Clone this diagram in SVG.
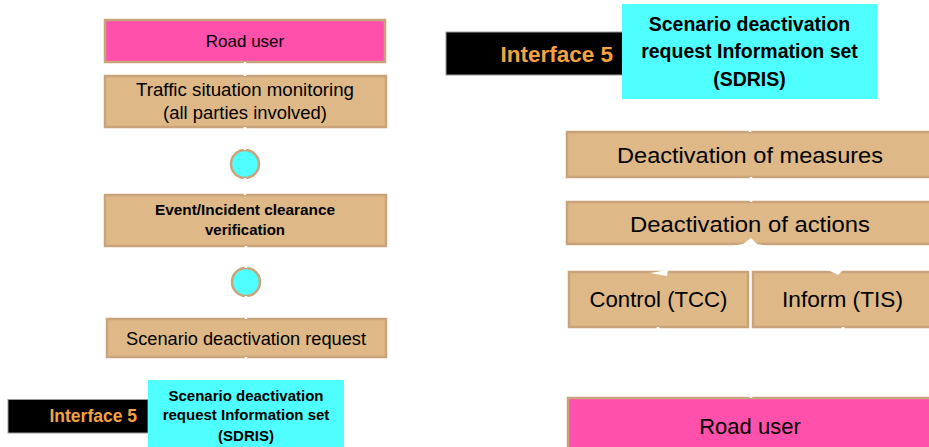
<svg xmlns="http://www.w3.org/2000/svg" width="929" height="447" viewBox="0 0 929 447">
  <style>
    text { font-family: "Liberation Sans", Arial, sans-serif; fill: #000; text-anchor: middle; }
    .tan { fill: #DEB887; stroke: #C9A47A; stroke-width: 2.5; }
    .pink { fill: #FF50AC; stroke: #C9A47A; stroke-width: 2.5; }
    .cyan { fill: #4FFFFF; }
    .dot { fill: #4FFFFF; stroke: #C9A47A; stroke-width: 2.5; }
    .blk { fill: #000; stroke: #9A9A9A; stroke-width: 1; }
    .ifc { fill: #F4A343; font-weight: bold; text-anchor: end; }
    .b { font-weight: bold; }
    .conn { fill: none; stroke: #FFFFFF; stroke-width: 2.5; }
  </style>

  <!-- left column -->
  <g id="road-user-left">
    <rect class="pink" x="105" y="20" width="280" height="42"/>
    <text x="245" y="47" font-size="17">Road user</text>
  </g>
  <g id="traffic-monitoring">
    <rect class="tan" x="105" y="76" width="281" height="51"/>
    <text x="245" y="96" font-size="17.5" textLength="218" lengthAdjust="spacingAndGlyphs">Traffic situation monitoring</text>
    <text x="245" y="119" font-size="17.5" textLength="164" lengthAdjust="spacingAndGlyphs">(all parties involved)</text>
  </g>
  <g id="junction-1">
    <circle class="dot" cx="245" cy="164" r="14"/>
  </g>
  <g id="clearance-verification">
    <rect class="tan" x="105" y="195" width="281" height="51"/>
    <text class="b" x="245" y="215" font-size="14.5" textLength="180" lengthAdjust="spacingAndGlyphs">Event/Incident clearance</text>
    <text class="b" x="245" y="235" font-size="14.5" textLength="80" lengthAdjust="spacingAndGlyphs">verification</text>
  </g>
  <g id="junction-2">
    <circle class="dot" cx="246" cy="282" r="14"/>
  </g>
  <g id="deactivation-request">
    <rect class="tan" x="107" y="319" width="279" height="38"/>
    <text x="246" y="345" font-size="17.5" textLength="240" lengthAdjust="spacingAndGlyphs">Scenario deactivation request</text>
  </g>
  <g id="interface-5-left">
    <rect class="blk" x="8" y="399.5" width="140" height="33.5"/>
    <text class="ifc" x="137" y="422" font-size="17.5">Interface 5</text>
  </g>
  <g id="sdris-left">
    <rect class="cyan" x="148" y="380" width="196" height="67"/>
    <text class="b" x="246" y="401" font-size="15">Scenario deactivation</text>
    <text class="b" x="246" y="420" font-size="15">request Information set</text>
    <text class="b" x="246" y="441" font-size="15">(SDRIS)</text>
  </g>

  <!-- right column -->
  <g id="interface-5-right">
    <rect class="blk" x="446" y="32" width="177" height="43"/>
    <text class="ifc" x="613" y="62" font-size="22.5">Interface 5</text>
  </g>
  <g id="sdris-right">
    <rect class="cyan" x="622" y="4" width="255" height="95"/>
    <text class="b" x="749.5" y="31" font-size="19.5">Scenario deactivation</text>
    <text class="b" x="749.5" y="58" font-size="19.5">request Information set</text>
    <text class="b" x="749.5" y="86" font-size="19.5">(SDRIS)</text>
  </g>
  <g id="deactivation-measures">
    <rect class="tan" x="567" y="132" width="370" height="45"/>
    <text x="750" y="163" font-size="22.5" textLength="266" lengthAdjust="spacingAndGlyphs">Deactivation of measures</text>
  </g>
  <g id="deactivation-actions">
    <rect class="tan" x="567" y="202" width="370" height="42"/>
    <text x="750" y="232" font-size="22.5" textLength="240" lengthAdjust="spacingAndGlyphs">Deactivation of actions</text>
  </g>
  <g id="control-tcc">
    <rect class="tan" x="569" y="272" width="179" height="55"/>
    <text x="658.5" y="307" font-size="21.5" textLength="138" lengthAdjust="spacingAndGlyphs">Control (TCC)</text>
  </g>
  <g id="inform-tis">
    <rect class="tan" x="753" y="272" width="184" height="55"/>
    <text x="842.5" y="307" font-size="21.5" textLength="121" lengthAdjust="spacingAndGlyphs">Inform (TIS)</text>
  </g>
  <g id="road-user-right">
    <rect class="pink" x="568" y="398" width="369" height="55"/>
    <text x="750" y="434" font-size="22">Road user</text>
  </g>

  <!-- connectors (white flow lines) -->
  <g id="connectors" class="conn">
    <path d="M245 62 V76"/>
    <path d="M245 127 V150"/>
    <path d="M245 178 V195"/>
    <path d="M246 246 V268"/>
    <path d="M246 296 V319"/>
    <path d="M246 357 V380"/>
    <path d="M750 99 V132"/>
    <path d="M751 177 V202"/>
    <path d="M750 244 Q700 252 660 268"/>
    <path d="M750 244 Q800 252 834 268"/>
    <path d="M658 327 V340"/>
    <path d="M843 327 V340"/>
    <path d="M751 385 V398"/>
  </g>
  <g id="connector-heads" fill="#FFFFFF">
    <path d="M650 273 L668 270 L667 276 Z"/>
    <path d="M828 270 L846 267 L838 275 Z"/>
    <path d="M743 244 L751 238 L757 244 Z"/>
  </g>
</svg>
